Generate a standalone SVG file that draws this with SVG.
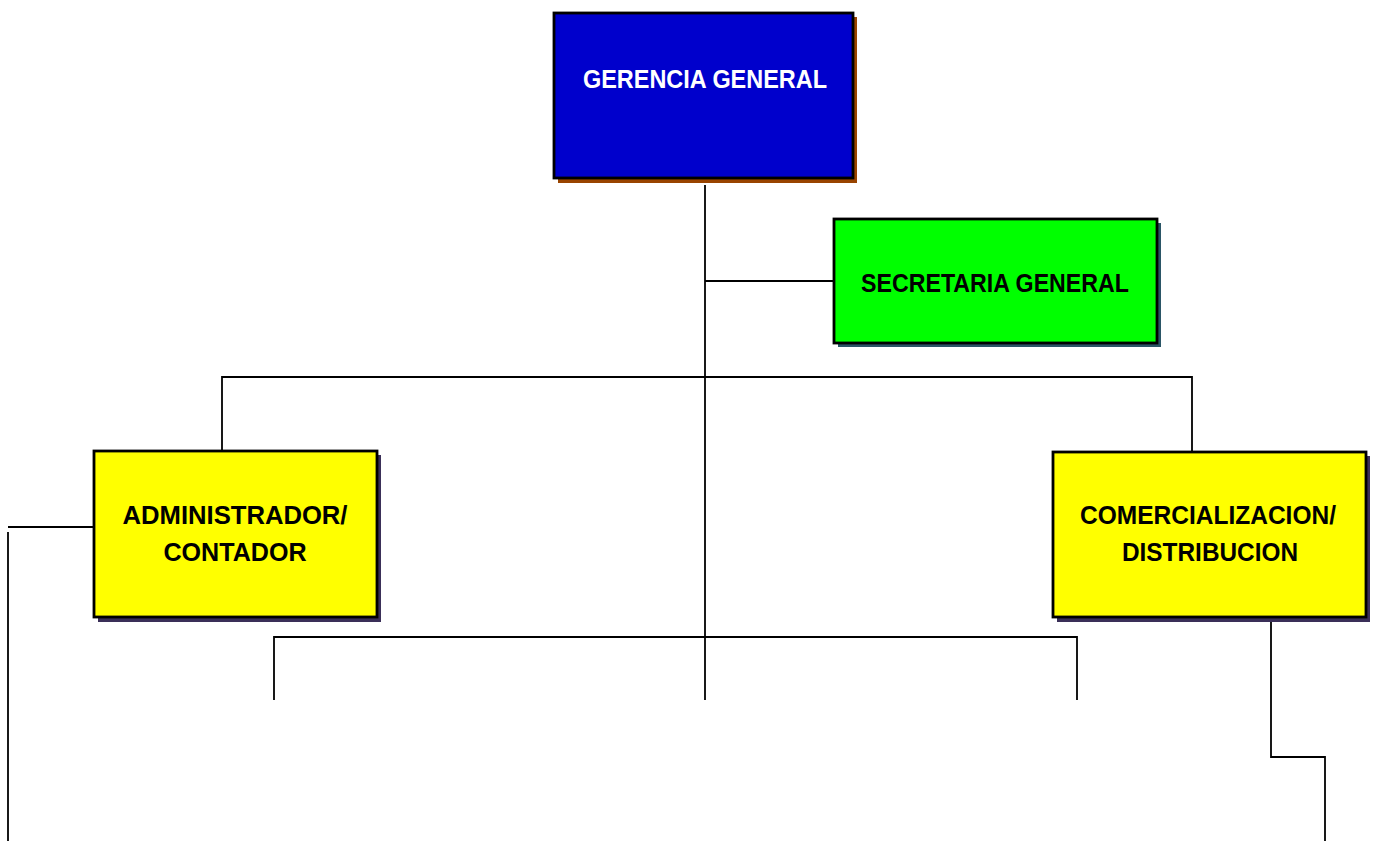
<svg xmlns="http://www.w3.org/2000/svg" width="1374" height="841" viewBox="0 0 1374 841">
  <style>
    .box { stroke: #000; stroke-width: 2.8; }
    .conn { stroke: #000; stroke-width: 1.8; fill: none; }
    .lbl { font-family: "Liberation Sans", Arial, sans-serif; font-weight: bold; font-size: 26px; text-anchor: middle; }
  </style>
  <rect width="1374" height="841" fill="#fff"/>

  <!-- connectors -->
  <g id="connectors">
    <path class="conn" d="M705 185 V700"/>
    <path class="conn" d="M705 281 H834"/>
    <path class="conn" d="M222 450 V377 H1192 V452"/>
    <path class="conn" d="M94 527 H8"/>
    <path class="conn" d="M8 532 V841"/>
    <path class="conn" d="M274 700 V637 H1077 V700"/>
    <path class="conn" d="M1271 617 V757 H1325 V841"/>
  </g>

  <g id="gerencia-general">
    <rect x="558" y="17" width="299" height="166" fill="#994400"/>
    <rect class="box" x="554" y="13" width="299" height="165" fill="#0000cc"/>
    <text class="lbl" x="705" y="88" fill="#fff" textLength="244" lengthAdjust="spacingAndGlyphs">GERENCIA GENERAL</text>
  </g>

  <g id="secretaria-general">
    <rect x="838" y="223" width="323" height="124" fill="#2a5566"/>
    <rect class="box" x="834" y="219" width="323" height="124" fill="#00ff00"/>
    <text class="lbl" x="995" y="292" fill="#000" textLength="268" lengthAdjust="spacingAndGlyphs">SECRETARIA GENERAL</text>
  </g>

  <g id="administrador-contador">
    <rect x="98" y="455" width="283" height="167" fill="#3a2f58"/>
    <rect class="box" x="94" y="451" width="283" height="166" fill="#ffff00"/>
    <text class="lbl" x="235" y="524" fill="#000" textLength="225" lengthAdjust="spacingAndGlyphs">ADMINISTRADOR/</text>
    <text class="lbl" x="235" y="561" fill="#000" textLength="143" lengthAdjust="spacingAndGlyphs">CONTADOR</text>
  </g>

  <g id="comercializacion-distribucion">
    <rect x="1057" y="456" width="313" height="166" fill="#3a2f58"/>
    <rect class="box" x="1053" y="452" width="313" height="165" fill="#ffff00"/>
    <text class="lbl" x="1208" y="524" fill="#000" textLength="256" lengthAdjust="spacingAndGlyphs">COMERCIALIZACION/</text>
    <text class="lbl" x="1210" y="561" fill="#000" textLength="176" lengthAdjust="spacingAndGlyphs">DISTRIBUCION</text>
  </g>
</svg>
